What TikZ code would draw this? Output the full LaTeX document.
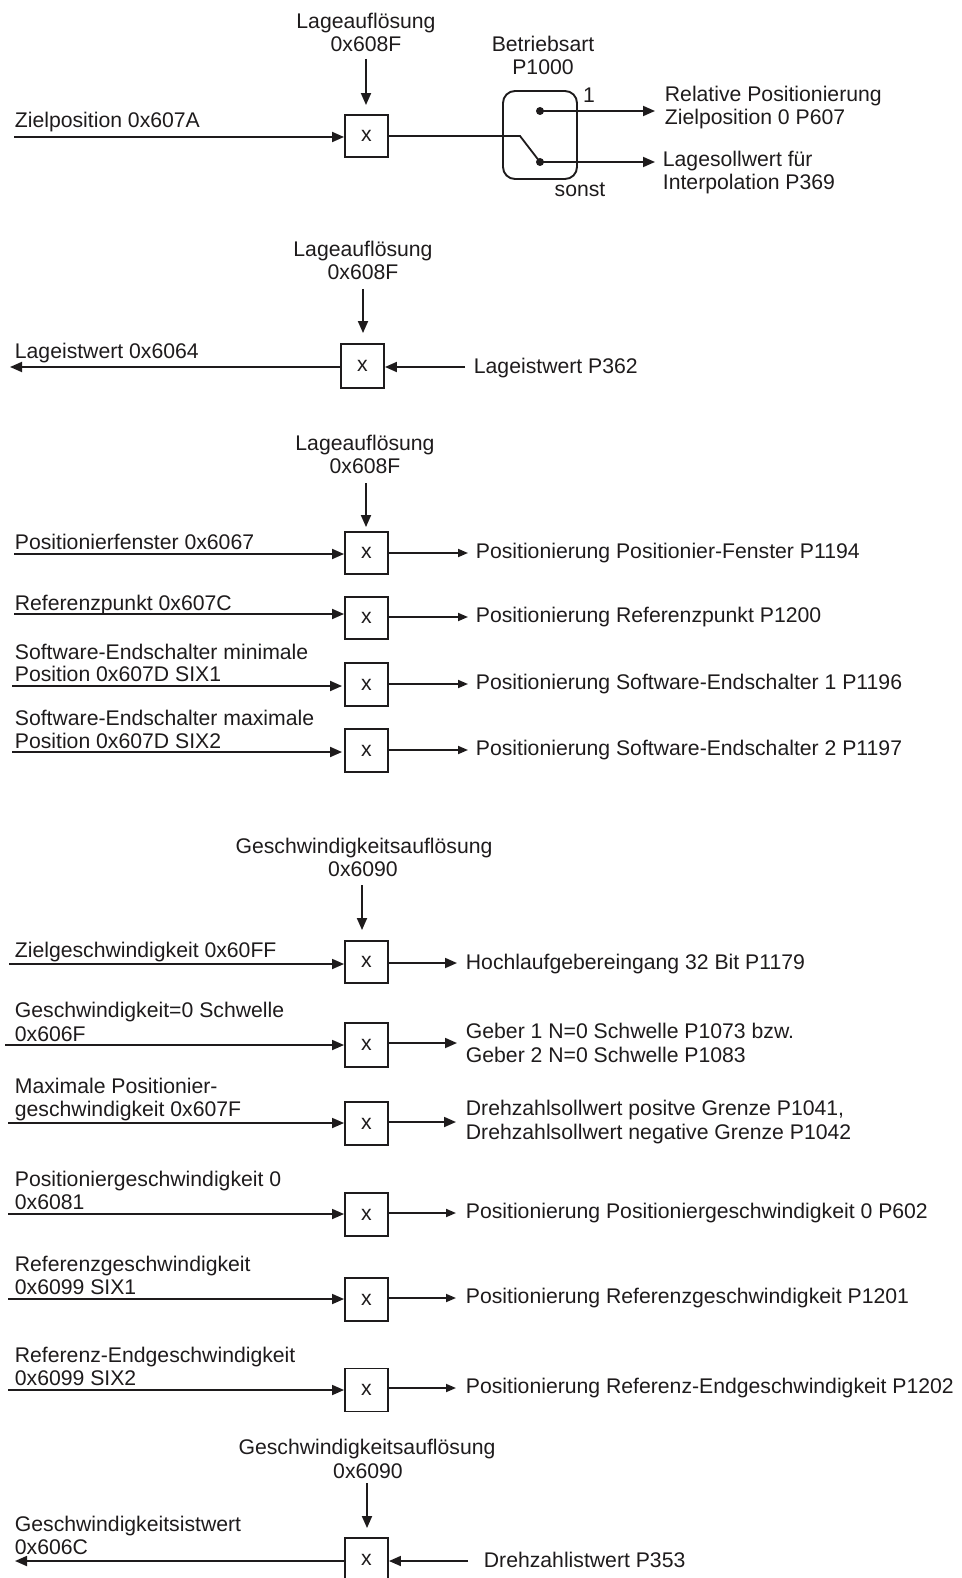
\documentclass[tikz,border=0pt]{standalone}
\usepackage{fontspec}
\setmainfont{Liberation Sans}
\usetikzlibrary{arrows.meta}
\definecolor{ink}{RGB}{30,27,28}
\begin{document}
\begin{tikzpicture}[x=1pt,y=-1pt, line width=1.8pt, color=ink,
  every node/.style={font=\fontsize{21.2}{23.5}\selectfont, inner sep=0pt},
  mbox/.style={draw, line width=1.9pt, minimum width=43pt, minimum height=43pt},
  lbl/.style={anchor=base west},
  clbl/.style={anchor=base},
  arr/.style={-{Triangle[length=12pt,width=10pt]}},
  sarr/.style={-{Triangle[length=10pt,width=8pt]}},
  swbox/.style={draw, line width=1.9pt, rounded corners=12pt, minimum width=74pt, minimum height=88pt}]
\useasboundingbox (0,0) rectangle (961,1578);

% ---------------- Section 1 ----------------
\node[clbl] (r1a) at (366,29) {Lageauflösung};
\node[clbl] (r1b) at (366,52) {0x608F};
\coordinate (r1t) at (366,59);
\node[mbox, minimum height=42pt] (m1) at (366.5,136) {x};
\draw[arr, shorten >=9pt] (r1t) -- (r1t |- m1.north);
\coordinate (i1) at (14,137);
\draw[arr] (i1) -- (i1 -| m1.west);
\node[lbl] (l1) at (14,128) {Zielposition 0x607A};

\node[swbox] (sw) at (540,135) {};
\coordinate (k) at (520,136);
\coordinate (d1) at (540,111);
\coordinate (d2) at (540,162);
\draw (m1.east |- k) -- (k) -- (d2);
\fill (d1) circle (4pt);
\fill (d2) circle (4pt);
\coordinate (o1) at (655,111);
\coordinate (o2) at (655,162);
\draw[arr] (d1) -- (o1);
\draw[arr] (d2) -- (o2);
\node[clbl] (ba) at (543,52) {Betriebsart};
\node[clbl] (bb) at (543,75) {P1000};
\node[clbl] (one) at (589,103) {1};
\node[clbl] (sonst) at (580,197) {sonst};
\node[lbl] (t1a) at (664,102) {Relative Positionierung};
\node[lbl] (t1b) at (664,125) {Zielposition 0 P607};
\node[lbl] (t2a) at (662,167) {Lagesollwert für};
\node[lbl] (t2b) at (662,190) {Interpolation P369};

% ---------------- Section 2 ----------------
\node[clbl] (r2a) at (363,257) {Lageauflösung};
\node[clbl] (r2b) at (363,280) {0x608F};
\coordinate (r2t) at (363,289);
\node[mbox, minimum height=44pt] (m2) at (362.5,366) {x};
\draw[arr, shorten >=10pt] (r2t) -- (r2t |- m2.north);
\coordinate (o2l) at (10,367);
\draw[arr] (m2.west |- o2l) -- (o2l);
\node[lbl] (l2) at (14,358) {Lageistwert 0x6064};
\coordinate (i2) at (465,367);
\draw[arr] (i2) -- (i2 -| m2.east);
\node[lbl] (t2) at (473,373) {Lageistwert P362};

% ---------------- Section 3 ----------------
\node[clbl] (r3a) at (365,450) {Lageauflösung};
\node[clbl] (r3b) at (365,473) {0x608F};
\coordinate (r3t) at (366,483);
\node[mbox, minimum height=42pt] (m31) at (366.5,553) {x};
\node[mbox, minimum height=42pt] (m32) at (366.5,618) {x};
\node[mbox] (m33) at (366.5,684.5) {x};
\node[mbox] (m34) at (366.5,750.5) {x};
\draw[arr, shorten >=4pt] (r3t) -- (r3t |- m31.north);

\coordinate (i31) at (14,554);
\coordinate (i32) at (14,614);
\coordinate (i33) at (12,686);
\coordinate (i34) at (12,752);
\draw[arr] (i31) -- (i31 -| m31.west);
\draw[arr] (i32) -- (i32 -| m32.west);
\draw[arr, shorten >=2pt] (i33) -- (i33 -| m33.west);
\draw[arr, shorten >=2pt] (i34) -- (i34 -| m34.west);
\node[lbl] (l31) at (14,549) {Positionierfenster 0x6067};
\node[lbl] (l32) at (14,610) {Referenzpunkt 0x607C};
\node[lbl] (l33a) at (14,659) {Software-Endschalter minimale};
\node[lbl] (l33b) at (14,681) {Position 0x607D SIX1};
\node[lbl] (l34a) at (14,725) {Software-Endschalter maximale};
\node[lbl] (l34b) at (14,748) {Position 0x607D SIX2};

\coordinate (o31) at (468,553);
\coordinate (o32) at (468,617);
\coordinate (o33) at (468,684);
\coordinate (o34) at (468,750);
\draw[sarr] (m31.east |- o31) -- (o31);
\draw[sarr] (m32.east |- o32) -- (o32);
\draw[sarr] (m33.east |- o33) -- (o33);
\draw[sarr] (m34.east |- o34) -- (o34);
\node[lbl] (t31) at (475,558) {Positionierung Positionier-Fenster P1194};
\node[lbl] (t32) at (475,622) {Positionierung Referenzpunkt P1200};
\node[lbl] (t33) at (475,689) {Positionierung Software-Endschalter 1 P1196};
\node[lbl] (t34) at (475,755) {Positionierung Software-Endschalter 2 P1197};

% ---------------- Section 4 ----------------
\node[clbl] (r4a) at (364,853) {Geschwindigkeitsauflösung};
\node[clbl] (r4b) at (363,876) {0x6090};
\coordinate (r4t) at (362,885);
\node[mbox, minimum height=42pt] (m41) at (366.5,962) {x};
\node[mbox, minimum height=44pt] (m42) at (366.5,1045) {x};
\node[mbox] (m43) at (366.5,1123.5) {x};
\node[mbox] (m44) at (366.5,1214.5) {x};
\node[mbox] (m45) at (366.5,1299.5) {x};
\node[mbox] (m46) at (366.5,1390) {x};
\draw[arr, shorten >=10pt] (r4t) -- (r4t |- m41.north);

\coordinate (i41) at (9,964);
\coordinate (i42) at (5,1045);
\coordinate (i43) at (8,1123);
\coordinate (i44) at (8,1214);
\coordinate (i45) at (8,1299);
\coordinate (i46) at (8,1390);
\draw[arr] (i41) -- (i41 -| m41.west);
\draw[arr] (i42) -- (i42 -| m42.west);
\draw[arr] (i43) -- (i43 -| m43.west);
\draw[arr] (i44) -- (i44 -| m44.west);
\draw[arr] (i45) -- (i45 -| m45.west);
\draw[arr] (i46) -- (i46 -| m46.west);
\node[lbl] (l41) at (14,957) {Zielgeschwindigkeit 0x60FF};
\node[lbl] (l42a) at (14,1017) {Geschwindigkeit=0 Schwelle};
\node[lbl] (l42b) at (14,1041) {0x606F};
\node[lbl] (l43a) at (14,1093) {Maximale Positionier-};
\node[lbl] (l43b) at (14,1116) {geschwindigkeit 0x607F};
\node[lbl] (l44a) at (14,1186) {Positioniergeschwindigkeit 0};
\node[lbl] (l44b) at (14,1209) {0x6081};
\node[lbl] (l45a) at (14,1271) {Referenzgeschwindigkeit};
\node[lbl] (l45b) at (14,1294) {0x6099 SIX1};
\node[lbl] (l46a) at (14,1362) {Referenz-Endgeschwindigkeit};
\node[lbl] (l46b) at (14,1385) {0x6099 SIX2};

\coordinate (o41) at (457,963);
\coordinate (o42) at (457,1043);
\coordinate (o43) at (456,1122);
\coordinate (o44) at (456,1213);
\coordinate (o45) at (456,1298);
\coordinate (o46) at (456,1388);
\draw[arr] (m41.east |- o41) -- (o41);
\draw[arr] (m42.east |- o42) -- (o42);
\draw[arr] (m43.east |- o43) -- (o43);
\draw[sarr] (m44.east |- o44) -- (o44);
\draw[sarr] (m45.east |- o45) -- (o45);
\draw[sarr] (m46.east |- o46) -- (o46);
\node[lbl] (t41) at (465,969) {Hochlaufgebereingang 32 Bit P1179};
\node[lbl] (t42a) at (465,1038) {Geber 1 N=0 Schwelle P1073 bzw.};
\node[lbl] (t42b) at (465,1062) {Geber 2 N=0 Schwelle P1083};
\node[lbl] (t43a) at (465,1115) {Drehzahlsollwert positve Grenze P1041,};
\node[lbl] (t43b) at (465,1139) {Drehzahlsollwert negative Grenze P1042};
\node[lbl] (t44) at (465,1218) {Positionierung Positioniergeschwindigkeit 0 P602};
\node[lbl] (t45) at (465,1303) {Positionierung Referenzgeschwindigkeit P1201};
\node[lbl] (t46) at (465,1393) {Positionierung Referenz-Endgeschwindigkeit P1202};

% ---------------- Section 5 ----------------
\node[clbl] (r5a) at (367,1454) {Geschwindigkeitsauflösung};
\node[clbl] (r5b) at (368,1478) {0x6090};
\coordinate (r5t) at (367,1483);
\node[mbox] (m5) at (366.5,1559.5) {x};
\draw[arr, shorten >=9pt] (r5t) -- (r5t |- m5.north);
\coordinate (o5l) at (15,1561);
\draw[arr] (m5.west |- o5l) -- (o5l);
\node[lbl] (l5a) at (14,1531) {Geschwindigkeitsistwert};
\node[lbl] (l5b) at (14,1554) {0x606C};
\coordinate (i5) at (468,1561);
\draw[arr] (i5) -- (i5 -| m5.east);
\node[lbl] (t5) at (483,1567) {Drehzahlistwert P353};
\end{tikzpicture}
\end{document}
